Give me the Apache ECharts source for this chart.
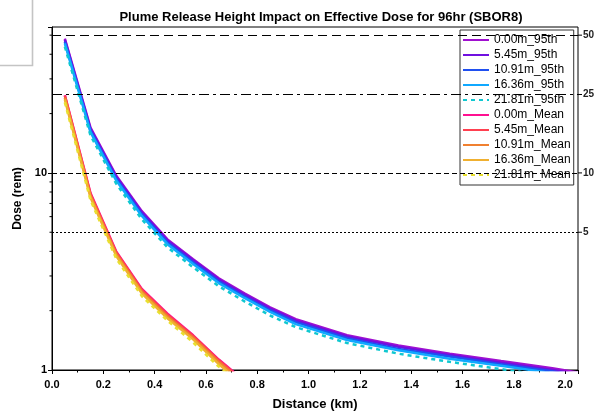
<!DOCTYPE html>
<html>
<head>
<meta charset="utf-8">
<script src="https://cdn.jsdelivr.net/npm/echarts@6/dist/echarts.min.js"></script>
<style>html,body{margin:0;padding:0;background:#fff;}#c{width:599px;height:416px;}</style>
</head>
<body>
<div id="c"></div>
<script>
// ---- data ----
const distance95 = [0.05, 0.15, 0.25, 0.35, 0.45, 0.55, 0.65, 0.75, 0.85, 0.95, 1.15, 1.35, 1.55, 1.75, 1.95, 2.05];
const dose_000m_95th = [48.0, 17.0, 9.70, 6.40, 4.60, 3.65, 2.92, 2.45, 2.08, 1.81, 1.50, 1.33, 1.21, 1.11, 1.02, 0.97];
const dose_545m_95th = [47.3, 16.7, 9.55, 6.30, 4.53, 3.60, 2.88, 2.41, 2.05, 1.78, 1.48, 1.31, 1.19, 1.09, 1.00, 0.955];
const dose_1091m_95th = [46.3, 16.4, 9.36, 6.18, 4.44, 3.52, 2.82, 2.36, 2.01, 1.75, 1.45, 1.28, 1.17, 1.07, 0.985, 0.936];
const dose_1636m_95th = [45.4, 16.1, 9.17, 6.05, 4.35, 3.45, 2.76, 2.32, 1.97, 1.71, 1.42, 1.26, 1.14, 1.05, 0.964, 0.917];
const dose_2181m_95th = [43.7, 15.5, 8.83, 5.82, 4.19, 3.32, 2.66, 2.23, 1.89, 1.65, 1.37, 1.21, 1.10, 1.01, 0.928, 0.883];

const distanceMean = [0.05, 0.15, 0.25, 0.35, 0.45, 0.55, 0.65, 0.75];
const dose_000m_Mean = [24.8, 7.90, 4.00, 2.58, 1.93, 1.50, 1.13, 0.880];
const dose_545m_Mean = [24.6, 7.80, 3.96, 2.55, 1.91, 1.49, 1.12, 0.870];
const dose_1091m_Mean = [24.1, 7.66, 3.88, 2.50, 1.87, 1.46, 1.10, 0.854];
const dose_1636m_Mean = [23.6, 7.50, 3.80, 2.45, 1.83, 1.43, 1.07, 0.836];
const dose_2181m_Mean = [22.8, 7.27, 3.68, 2.37, 1.78, 1.38, 1.04, 0.810];

const seriesNames = ['0.00m_95th','5.45m_95th','10.91m_95th','16.36m_95th','21.81m_95th',
                     '0.00m_Mean','5.45m_Mean','10.91m_Mean','16.36m_Mean','21.81m_Mean'];
const referenceDoses = [50, 25, 10, 5];
const yMinorTickValues = [2, 3, 4, 5, 6, 7, 8, 9, 20, 30, 40, 50];
const xTickLabels = ['0.0','0.2','0.4','0.6','0.8','1.0','1.2','1.4','1.6','1.8','2.0'];

const X_MIN = 0, X_MAX = 2.05, Y_MIN = 1, Y_MAX = 55;

// ---- styles ----
const colors = ['#a010d0','#7010e0','#2050f0','#10a8ff','#10c8d0',
                '#ff1090','#ff4050','#f08030','#f0b030','#e8e030'];
const dashed = [false,false,false,false,true,false,false,false,false,true];
const FONT = 'Liberation Sans, Arial, sans-serif';

const doseSets = [dose_000m_95th, dose_545m_95th, dose_1091m_95th, dose_1636m_95th, dose_2181m_95th,
                  dose_000m_Mean, dose_545m_Mean, dose_1091m_Mean, dose_1636m_Mean, dose_2181m_Mean];

const refStyles = [[9,5],[10,4,3,4],[5,3],[2,2]];

const lineSeries = doseSets.map((vals, i) => {
  const xs = i < 5 ? distance95 : distanceMean;
  const s = {
    name: seriesNames[i],
    type: 'line',
    data: vals.map((v, k) => [xs[k], v]),
    symbol: 'none',
    showSymbol: false,
    clip: true,
    z: 3,
    lineStyle: { color: colors[i], width: 2.5, type: dashed[i] ? [4,4] : 'solid' },
    itemStyle: { color: colors[i] }
  };
  if (i === 0) {
    s.markLine = {
      silent: true,
      symbol: 'none',
      animation: false,
      label: { position: 'end', distance: 5, color: '#222', fontFamily: FONT, fontWeight: 'bold', fontSize: 10 },
      data: referenceDoses.map((d, k) => ({
        yAxis: d,
        lineStyle: { color: '#000', width: 1.2, type: refStyles[k] }
      }))
    };
  }
  return s;
});

const tickSeries = (values, xVal, dx0, dx1) => ({
  type: 'custom',
  silent: true,
  clip: false,
  z: 10,
  data: values.map(v => [xVal, v]),
  encode: { x: 0, y: 1 },
  renderItem: (params, api) => {
    const p = api.coord([api.value(0), api.value(1)]);
    return { type: 'line', shape: { x1: p[0] + dx0, y1: p[1], x2: p[0] + dx1, y2: p[1] },
             style: { stroke: '#000', lineWidth: 1 } };
  }
});

const chart = echarts.init(document.getElementById('c'), null, { renderer: 'canvas' });
chart.setOption({
  animation: false,
  backgroundColor: '#fff',
  title: {
    text: 'Plume Release Height Impact on Effective Dose for 96hr (SBOR8)',
    left: 316, top: 6, textAlign: 'center',
    textStyle: { fontFamily: FONT, fontWeight: 'bold', fontSize: 13, color: '#000' }
  },
  graphic: [{
    type: 'rect', shape: { x: -5, y: -5, width: 37.5, height: 70.5 },
    style: { fill: 'none', stroke: '#c4c4c4', lineWidth: 1.6 }, silent: true
  }],
  legend: {
    data: seriesNames,
    orient: 'vertical',
    left: 460, top: 30,
    padding: [4, 3, 4, 2],
    itemWidth: 26, itemHeight: 12, itemGap: 3,
    backgroundColor: '#fff',
    borderColor: '#333', borderWidth: 1, borderRadius: 0,
    itemStyle: { opacity: 0 },
    textStyle: { fontFamily: FONT, fontSize: 12, color: '#000' }
  },
  grid: { left: 52, right: 21, top: 27, bottom: 45, show: true, borderColor: '#000', borderWidth: 1, containLabel: false },
  xAxis: {
    type: 'value', min: X_MIN, max: X_MAX, interval: 0.2,
    name: 'Distance (km)', nameLocation: 'middle', nameGap: 28,
    nameTextStyle: { fontFamily: FONT, fontWeight: 'bold', fontSize: 13, color: '#000' },
    axisLine: { show: true, lineStyle: { color: '#000', width: 1 } },
    axisTick: { show: true, inside: false, length: 4, lineStyle: { color: '#000' } },
    minorTick: { show: true, splitNumber: 2, length: 2.5, lineStyle: { color: '#000' } },
    splitLine: { show: false },
    axisLabel: {
      margin: 9, fontFamily: FONT, fontWeight: 'bold', fontSize: 11, color: '#000',
      formatter: v => {
        const k = Math.round(v / 0.2);
        if (Math.abs(v / 0.2 - k) > 1e-6) return '';
        return xTickLabels[k] !== undefined ? xTickLabels[k] : '';
      }
    }
  },
  yAxis: {
    type: 'log', logBase: 10, min: Y_MIN, max: Y_MAX,
    name: 'Dose (rem)', nameLocation: 'middle', nameGap: 24, nameRotate: 90,
    nameTextStyle: { fontFamily: FONT, fontWeight: 'bold', fontSize: 12, color: '#000' },
    axisLine: { show: true, lineStyle: { color: '#000', width: 1 } },
    axisTick: { show: true, inside: false, length: 4, lineStyle: { color: '#000' } },
    minorTick: { show: false },
    splitLine: { show: false },
    axisLabel: {
      margin: 5, fontFamily: FONT, fontWeight: 'bold', fontSize: 11, color: '#000',
      formatter: v => (Math.abs(v - 1) < 1e-6 ? '1' : (Math.abs(v - 10) < 1e-6 ? '10' : ''))
    }
  },
  series: lineSeries.concat([
    tickSeries(yMinorTickValues, X_MIN, -2.5, 0),
    tickSeries(referenceDoses, X_MAX, 0, 4)
  ])
});
</script>
</body>
</html>
